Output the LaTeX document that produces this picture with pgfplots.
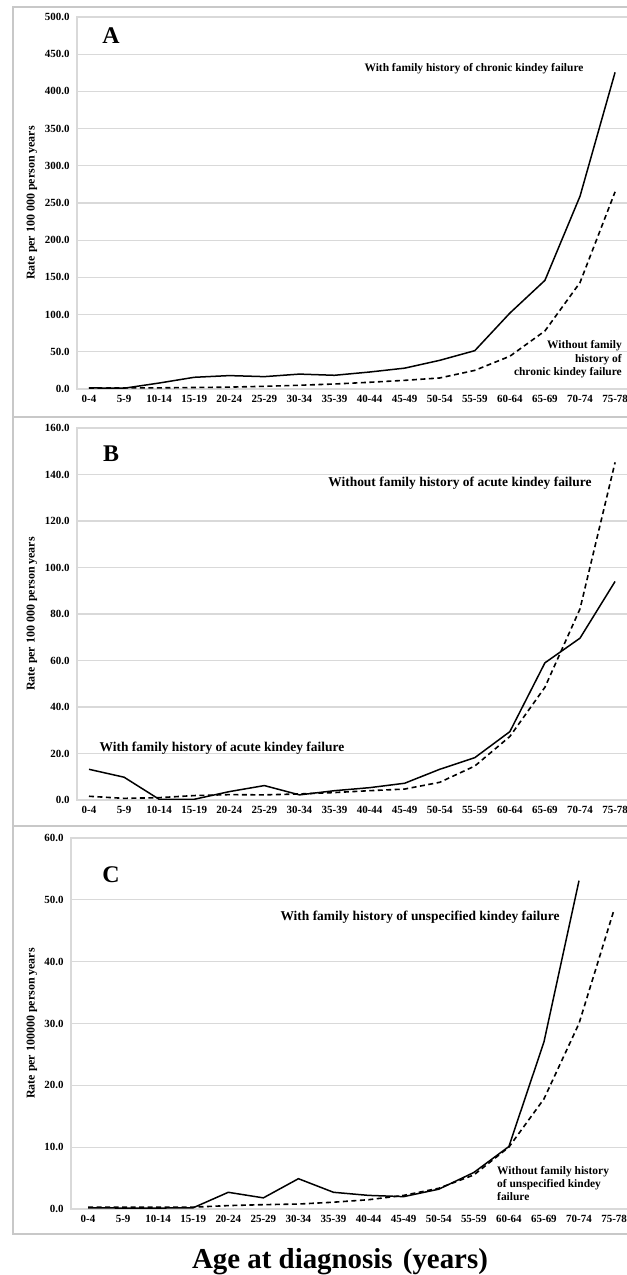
\documentclass[border=0pt]{standalone}
\usepackage{fontspec}
\setmainfont{Liberation Serif}
\usepackage{pgfplots}
\usepackage{pgfplotstable}
\pgfplotsset{compat=1.18}

\definecolor{gridgray}{HTML}{D9D9D9}
\definecolor{framegray}{HTML}{C8C8C8}

% rates per 100 000 person years, by age group (x = 0 ... 15)
\pgfplotstableread{
x with without
0  1.5   1.0
1  1.0   1.5
2  8.0   1.5
3  15.7  2.0
4  18.0  2.5
5  16.6  3.6
6  20.0  5.0
7  18.4  6.7
8  22.8  9.0
9  28.0  11.6
10 38.5  14.8
11 51.5  25.0
12 102.0 44.0
13 146.0 78.0
14 259.0 143.0
15 425.6 265.0
}\chronic

\pgfplotstableread{
x with without
0  13.2 1.6
1  9.8  0.7
2  0.3  1.0
3  0.3  1.9
4  3.6  2.3
5  6.2  2.2
6  2.2  2.6
7  4.0  3.2
8  5.3  4.0
9  7.2  4.7
10 13.2 7.6
11 18.2 14.6
12 29.4 27.3
13 59.0 48.5
14 69.6 82.2
15 94.0 145.2
}\acute

\pgfplotstableread{
x with without
0  0.2  0.3
1  0.15 0.3
2  0.15 0.3
3  0.2  0.3
4  2.7  0.55
5  1.8  0.7
6  4.9  0.8
7  2.7  1.1
8  2.2  1.5
9  2.0  2.2
10 3.2  3.35
11 5.9  5.5
12 10.1 10.0
13 27.0 17.8
14 53.1 30.0
15 nan  48.4
}\unspec

\pgfplotsset{
  panel/.style={
    scale only axis,
    xmax=15.5, ymin=0,
    xtick={0,...,15},
    xticklabels={0-4,5-9,10-14,15-19,20-24,25-29,30-34,35-39,40-44,45-49,50-54,55-59,60-64,65-69,70-74,75-78},
    major tick length=0pt,
    ymajorgrids,
    grid style={color=gridgray, line width=1.3bp},
    axis line style={color=gridgray, line width=1.3bp},
    tick label style={font=\fontsize{11}{13}\selectfont\bfseries},
    xticklabel style={yshift=-3bp},
    yticklabel style={xshift=-4bp,
      /pgf/number format/fixed,
      /pgf/number format/fixed zerofill,
      /pgf/number format/precision=1,
      /pgf/number format/assume math mode=true},
    ylabel style={at={(axis description cs:0,0.5)}, anchor=center,
      font=\fontsize{12}{14}\selectfont\bfseries},
  },
  withline/.style={black, line width=1.5bp},
  withoutline/.style={black, line width=1.6bp, dash pattern=on 5bp off 3.5bp},
}

\begin{document}
\begin{tikzpicture}[x=1bp,y=1bp]
\useasboundingbox (0,0) rectangle (627,1275);

% panel frames
\draw[framegray, line width=1.5bp] (13,1268) rectangle (640,858);
\draw[framegray, line width=1.5bp] (13,858) rectangle (640,449);
\draw[framegray, line width=1.5bp] (13,449) rectangle (640,41);

% Panel A
\begin{axis}[panel, at={(77bp,886bp)}, anchor=south west,
  width=555.6bp, height=372bp, xmin=-0.342, ymax=500, ytick={0,50,...,500},
  ylabel={Rate per 100 000 person years}, ylabel style={yshift=45bp}]
\addplot[withline] table[x=x, y=with] {\chronic};
\addplot[withoutline] table[x=x, y=without] {\chronic};
\end{axis}

% Panel B
\begin{axis}[panel, at={(77bp,475bp)}, anchor=south west,
  width=555.6bp, height=372bp, xmin=-0.342, ymax=160, ytick={0,20,...,160},
  ylabel={Rate per 100 000 person years}, ylabel style={yshift=45bp}]
\addplot[withline] table[x=x, y=with] {\acute};
\addplot[withoutline] table[x=x, y=without] {\acute};
\end{axis}

% Panel C
\begin{axis}[panel, at={(71bp,66bp)}, anchor=south west,
  width=560.6bp, height=371bp, xmin=-0.485, ymax=60, ytick={0,10,...,60},
  ylabel={Rate per 100000 person years}, ylabel style={yshift=39bp}]
\addplot[withline] table[x=x, y=with] {\unspec};
\addplot[withoutline] table[x=x, y=without] {\unspec};
\end{axis}

% panel letters
\node[font=\fontsize{24}{26}\selectfont\bfseries] at (111,1239) {A};
\node[font=\fontsize{24}{26}\selectfont\bfseries] at (111,821) {B};
\node[font=\fontsize{24}{26}\selectfont\bfseries] at (111,400) {C};

% annotations
\node[font=\fontsize{11.5}{13.5}\selectfont\bfseries] at (474,1206)
  {With family history of chronic kindey failure};
\node[font=\fontsize{11.5}{13.5}\selectfont\bfseries, align=right, anchor=east, inner sep=0pt] at (622,915.5)
  {Without family\\history of\\chronic kindey failure};
\node[font=\fontsize{13.5}{15}\selectfont\bfseries] at (460,792)
  {Without family history of acute kindey failure};
\node[font=\fontsize{13.5}{15}\selectfont\bfseries] at (222,527)
  {With family history of acute kindey failure};
\node[font=\fontsize{13.5}{15}\selectfont\bfseries] at (420,358)
  {With family history of unspecified kindey failure};
\node[font=\fontsize{11.5}{13.5}\selectfont\bfseries, align=left, anchor=west, inner sep=0pt] at (497,91.5)
  {Without family history\\of unspecified kindey\\failure};

% common x label
\node[font=\fontsize{29}{32}\selectfont\bfseries, anchor=base] at (340,6)
  {Age at diagnosis\hspace{3bp} (years)};
\end{tikzpicture}
\end{document}
